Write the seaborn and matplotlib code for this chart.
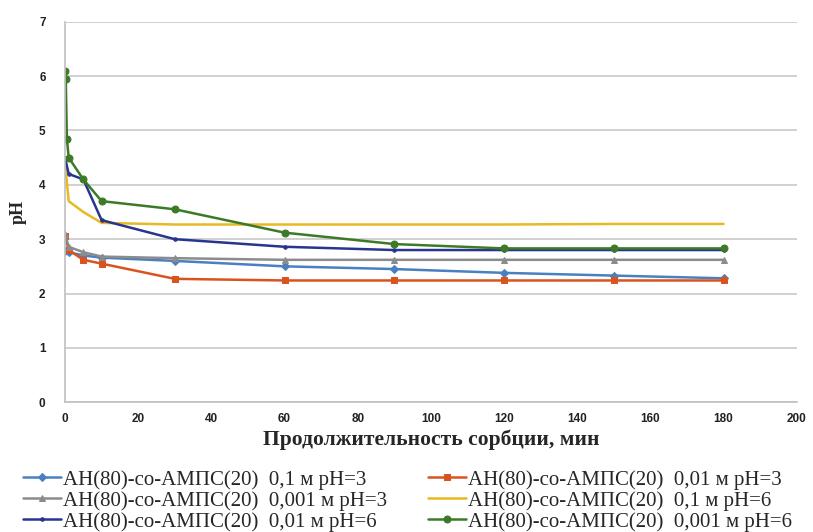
import matplotlib
matplotlib.use("Agg")
import matplotlib.pyplot as plt
import seaborn as sns
import pandas as pd

# ---- data ----
x_main = [0, 1, 5, 10, 30, 60, 90, 120, 150, 180]
x_green = [0, 0.2, 0.5, 1, 5, 10, 30, 60, 90, 120, 150, 180]

s1_vals = [2.78, 2.76, 2.70, 2.66, 2.60, 2.50, 2.45, 2.38, 2.33, 2.28]
s2_vals = [3.05, 2.80, 2.62, 2.55, 2.27, 2.24, 2.24, 2.24, 2.24, 2.24]
s3_vals = [3.10, 2.86, 2.76, 2.68, 2.65, 2.62, 2.62, 2.62, 2.62, 2.62]
s4_vals = [4.40, 3.70, 3.50, 3.30, 3.27, 3.27, 3.27, 3.27, 3.28, 3.28]
s5_vals = [4.50, 4.20, 4.10, 3.35, 3.00, 2.86, 2.80, 2.80, 2.80, 2.80]
s6_vals = [6.10, 5.95, 4.85, 4.50, 4.10, 3.70, 3.55, 3.12, 2.91, 2.83, 2.83, 2.83]

labels = [
    "АН(80)-со-АМПС(20)  0,1 м pH=3",
    "АН(80)-со-АМПС(20)  0,01 м pH=3",
    "АН(80)-со-АМПС(20)  0,001 м pH=3",
    "АН(80)-со-АМПС(20)  0,1 м pH=6",
    "АН(80)-со-АМПС(20)  0,01 м pH=6",
    "АН(80)-со-АМПС(20)  0,001 м pH=6",
]
x_ticks = [0, 20, 40, 60, 80, 100, 120, 140, 160, 180, 200]
y_ticks = [0, 1, 2, 3, 4, 5, 6, 7]

series = [
    (x_main, s1_vals, "#4a80c0", "D", 4),
    (x_main, s2_vals, "#d9531e", "s", 5),
    (x_main, s3_vals, "#8c8c8c", "^", 5),
    (x_main, s4_vals, "#e8b923", None, 0),
    (x_main, s5_vals, "#27358f", "o", 2.5),
    (x_green, s6_vals, "#3d7a27", "o", 5),
]

sns.set_style("white")
plt.rcParams["font.family"] = ["Liberation Serif", "DejaVu Serif"]

fig = plt.figure(figsize=(8.13, 5.32), dpi=100)
ax = fig.add_axes([0.080, 0.244, 0.900, 0.715])

handles = []
for (xs, ys, col, mk, ms), lab in zip(series, labels):
    df = pd.DataFrame({"x": xs, "y": ys})
    sns.lineplot(data=df, x="x", y="y", ax=ax, color=col, linewidth=1.8,
                 marker=mk if mk else None, markersize=ms,
                 markeredgecolor=col, label=lab, legend=False)
    handles.append(ax.lines[-1])

ax.set_xlim(0, 200)
ax.set_ylim(0, 7)
ax.set_xticks(x_ticks)
ax.set_yticks(y_ticks)
ax.set_xticklabels([str(t) for t in x_ticks], fontsize=8.5, fontweight="bold",
                   family="Liberation Sans", color="#222222")
ax.set_yticklabels([str(t) for t in y_ticks], fontsize=8.5, fontweight="bold",
                   family="Liberation Sans", color="#222222")
ax.tick_params(axis="x", length=0, pad=8)
ax.tick_params(axis="y", length=0, pad=14)
ax.grid(axis="y", color="#c8c8c8", linewidth=1.2)
ax.set_axisbelow(True)
for side in ["top", "right"]:
    ax.spines[side].set_visible(False)
for side in ["left", "bottom"]:
    ax.spines[side].set_color("#c0c0c0")
    ax.spines[side].set_linewidth(1.2)

ax.set_xlabel("Продолжительность сорбции, мин", fontsize=15.5, fontweight="bold",
              labelpad=3)
ax.set_ylabel("pH", fontsize=13, fontweight="bold", labelpad=9)

order = [0, 2, 4, 1, 3, 5]
fig.legend([handles[i] for i in order], [labels[i] for i in order],
           loc="lower left", bbox_to_anchor=(0.013, -0.023), ncol=2, frameon=False,
           fontsize=15, columnspacing=2.0, handlelength=1.8, handletextpad=0.1,
           labelspacing=0.06, borderaxespad=0.2)

fig.savefig("out.png", dpi=100)
